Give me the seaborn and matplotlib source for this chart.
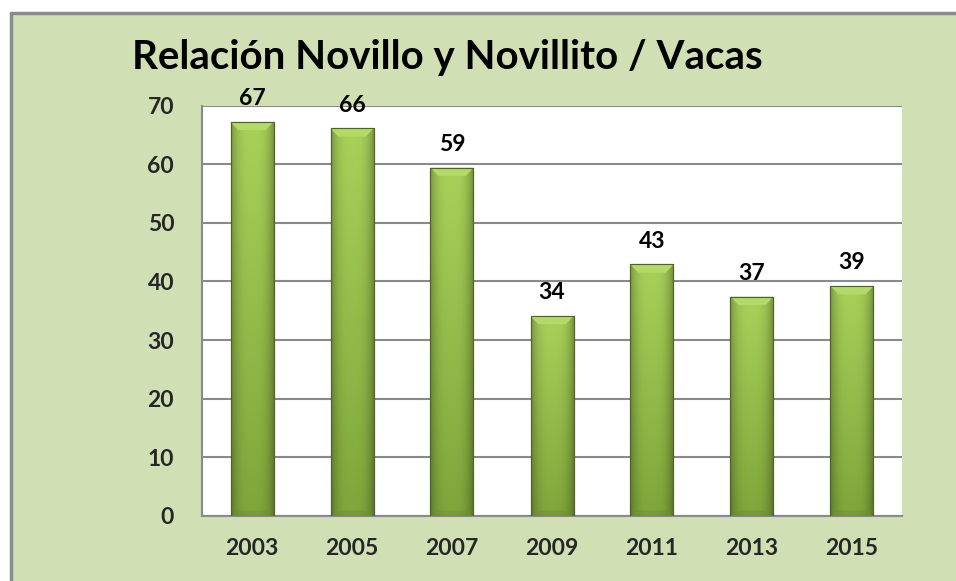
import seaborn as sns
import matplotlib.pyplot as plt
import matplotlib.patches as mpatches
import matplotlib.lines as mlines
import numpy as np
import pandas as pd

# Data
years = ['2003', '2005', '2007', '2009', '2011', '2013', '2015']
ratio = [67.2, 66.1, 59.4, 34.1, 42.9, 37.4, 39.2]

df = pd.DataFrame({'Año': years, 'Relación': ratio})

bg_green = '#d0dfb4'
grid_gray = '#8a8a8a'

sns.set_theme(style='white')
plt.rcParams['font.family'] = ['Lato', 'DejaVu Sans']

fig = plt.figure(figsize=(9.56, 5.81), dpi=100)
fig.patch.set_facecolor('white')

# Green chart area with gray border on top / left
fig.patches.append(mpatches.Rectangle((12 / 956, 0), 1, 1 - 14 / 581, transform=fig.transFigure,
                                      facecolor=bg_green, edgecolor='none', zorder=-2))
fig.lines.append(mlines.Line2D([11 / 956, 1], [1 - 13 / 581] * 2, transform=fig.transFigure,
                               color=grid_gray, lw=2.5, zorder=-1))
fig.lines.append(mlines.Line2D([11 / 956] * 2, [0, 1 - 13 / 581], transform=fig.transFigure,
                               color=grid_gray, lw=2.5, zorder=-1))

ax = fig.add_axes([202 / 956, 65 / 581, 700 / 956, 410.5 / 581])
ax.set_facecolor('white')

sns.barplot(data=df, x='Año', y='Relación', color='#8fb43f', width=0.43,
            edgecolor='#4f6228', linewidth=0.8, ax=ax, zorder=3)

# Cylinder-like shading for each bar: lighter at top, darker edges
top_col = np.array([0.66, 0.82, 0.35])
bot_col = np.array([0.50, 0.65, 0.23])
xs = np.linspace(0, 1, 60)
horiz = 1 - 0.28 * (np.abs(xs - 0.5) / 0.5) ** 3
ys = np.linspace(0, 1, 120)[:, None, None]
img = (bot_col * (1 - ys) + top_col * ys) * horiz[None, :, None]
img = np.clip(img, 0, 1)

for bar in list(ax.patches):
    x0, y0 = bar.get_x(), bar.get_y()
    w, h = bar.get_width(), bar.get_height()
    im = ax.imshow(img, extent=[x0, x0 + w, y0, y0 + h], origin='lower',
                   aspect='auto', zorder=3.5, interpolation='bilinear')
    im.set_clip_path(bar)
    # bevel on the top and bottom
    bev = 1.4
    ax.add_patch(mpatches.Polygon([[x0, y0 + h], [x0 + w, y0 + h],
                                   [x0 + w * 0.82, y0 + h - bev], [x0 + w * 0.18, y0 + h - bev]],
                                  closed=True, facecolor='#b4d96b', edgecolor='none', zorder=3.6))
    ax.add_patch(mpatches.Polygon([[x0, y0], [x0 + w, y0],
                                   [x0 + w * 0.85, y0 + 0.9], [x0 + w * 0.15, y0 + 0.9]],
                                  closed=True, facecolor='#738f33', edgecolor='none', alpha=0.5,
                                  zorder=3.6))
    ax.add_patch(mpatches.Rectangle((x0, y0), w, h, facecolor='none',
                                    edgecolor='#4f6228', lw=0.8, zorder=3.7))
    ax.annotate(f'{h:.0f}', (x0 + w / 2, y0 + h), xytext=(0, 12), textcoords='offset points',
                ha='center', va='baseline', fontsize=16.5, fontweight='bold', color='black',
                annotation_clip=False)

ax.set_ylim(0, 70)
ax.set_xlim(-0.5, len(years) - 0.5)
ax.set_yticks(range(0, 71, 10))
ax.yaxis.grid(True, color=grid_gray, lw=1.5, zorder=0)
ax.set_axisbelow(True)
for s in ['top', 'right']:
    ax.spines[s].set_visible(False)
for s in ['left', 'bottom']:
    ax.spines[s].set_color(grid_gray)
    ax.spines[s].set_linewidth(1.5)
ax.tick_params(axis='y', length=0, pad=20, labelsize=16.5)
ax.tick_params(axis='x', length=0, pad=16, labelsize=16.5)
for lab in ax.get_xticklabels() + ax.get_yticklabels():
    lab.set_fontweight('bold')
ax.set_xlabel('')
ax.set_ylabel('')

fig.text(447 / 956, 1 - 58 / 581, 'Relación Novillo y Novillito / Vacas', ha='center', va='center',
         fontsize=29, fontweight='bold', color='black')

fig.savefig('out.png', dpi=100)
